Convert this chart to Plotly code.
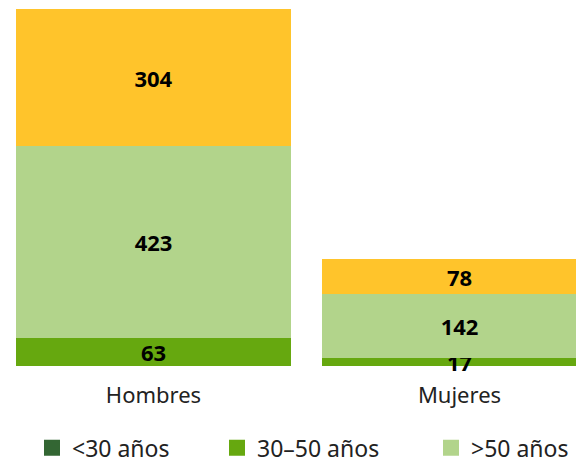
import plotly.graph_objects as go

categories = ["Hombres", "Mujeres"]
series_names = ["<30 años", "30\u201350 años", ">50 años"]
series_colors = ["#336633", "#66a80f", "#b2d48b"]
v_lt30 = [0, 0]
v_30_50 = [63, 17]
v_50 = [423, 142]
v_top = [304, 78]
top_color = "#ffc42b"

FONT = "Noto Sans"
fig = go.Figure()

def bar(vals, color):
    fig.add_trace(go.Bar(
        x=categories, y=vals, marker_color=color,
        marker_line_width=0, cliponaxis=False,
        text=[str(v) if v else "" for v in vals], textposition="inside",
        insidetextanchor="middle", textangle=0, constraintext="none",
        textfont=dict(family=FONT, size=22, color="black", weight="bold"),
        showlegend=False, hoverinfo="skip",
    ))

bar(v_lt30, series_colors[0])
bar(v_30_50, series_colors[1])
bar(v_50, series_colors[2])
bar(v_top, top_color)

# legend entries (square swatches)
for i, (name, col) in enumerate(zip(series_names, series_colors)):
    fig.add_trace(go.Scatter(
        x=[None], y=[None], mode="markers", name=name,
        marker=dict(symbol="square", size=16, color=col),
        legend="legend" if i == 0 else f"legend{i + 1}",
        hoverinfo="skip",
    ))

W = 576
left = -145.5 / 306
leg = dict(orientation="h", y=-0.229, yanchor="middle", xanchor="left",
           font=dict(size=23, color="#222"), itemwidth=30,
           itemsizing="trace", bgcolor="rgba(0,0,0,0)")
fig.update_layout(
    width=576, height=452,
    barmode="stack", bargap=0.1,
    margin=dict(l=0, r=0, t=1, b=94, autoexpand=False),
    plot_bgcolor="white", paper_bgcolor="white",
    font=dict(family=FONT, size=22, color="#222"),
    xaxis=dict(range=[left, left + W / 306], showline=False, ticks="outside",
               ticklen=10, tickcolor="rgba(0,0,0,0)",
               showgrid=False, tickfont=dict(size=22, color="#222")),
    yaxis=dict(range=[0, 790], visible=False),
    legend=dict(leg, x=24 / W),
    legend2=dict(leg, x=209 / W),
    legend3=dict(leg, x=423 / W),
)
fig.write_html("out.html")
